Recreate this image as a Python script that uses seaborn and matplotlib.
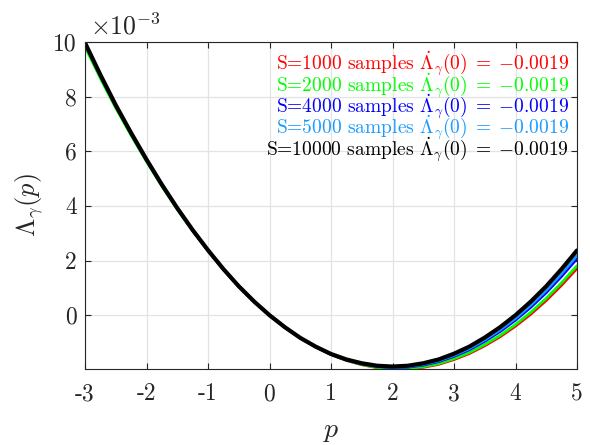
import numpy as np
import pandas as pd
import matplotlib
matplotlib.use("Agg")
import matplotlib.pyplot as plt
import seaborn as sns

# values, y in units of 1e-3
p = [-3, -2.75, -2.5, -2.25, -2, -1.75, -1.5, -1.25, -1, -0.75, -0.5, -0.25, 0,
     0.25, 0.5, 0.75, 1, 1.25, 1.5, 1.75, 2, 2.25, 2.5, 2.75, 3,
     3.25, 3.5, 3.75, 4, 4.25, 4.5, 4.75, 5]
lam_1000 = [9.91, 8.75, 7.645, 6.63, 5.665, 4.75, 3.90, 3.105, 2.37, 1.683, 1.056, 0.499, 0.0,
            -0.442, -0.837, -1.164, -1.444, -1.657, -1.813, -1.922, -1.974, -1.97, -1.91, -1.80, -1.625,
            -1.405, -1.12, -0.79, -0.40, 0.04, 0.54, 1.10, 1.71]
lam_2000 = [9.82, 8.67, 7.58, 6.58, 5.625, 4.72, 3.875, 3.09, 2.36, 1.678, 1.054, 0.498, 0.0,
            -0.442, -0.836, -1.162, -1.44, -1.651, -1.805, -1.911, -1.96, -1.95, -1.887, -1.773, -1.593,
            -1.367, -1.075, -0.74, -0.34, 0.11, 0.62, 1.19, 1.81]
lam_4000 = [9.93, 8.765, 7.66, 6.645, 5.68, 4.765, 3.908, 3.111, 2.374, 1.686, 1.058, 0.499, 0.0,
            -0.441, -0.833, -1.156, -1.431, -1.637, -1.784, -1.882, -1.922, -1.904, -1.828, -1.701, -1.507,
            -1.265, -0.955, -0.598, -0.18, 0.293, 0.826, 1.424, 2.07]
lam_5000 = [9.94, 8.775, 7.67, 6.652, 5.685, 4.768, 3.91, 3.113, 2.375, 1.687, 1.058, 0.499, 0.0,
            -0.441, -0.832, -1.154, -1.427, -1.631, -1.775, -1.871, -1.907, -1.885, -1.804, -1.672, -1.472,
            -1.224, -0.907, -0.54, -0.116, 0.367, 0.909, 1.519, 2.18]
lam_10000 = [9.97, 8.80, 7.69, 6.67, 5.70, 4.78, 3.92, 3.12, 2.38, 1.69, 1.06, 0.50, 0.0,
             -0.44, -0.83, -1.15, -1.42, -1.62, -1.76, -1.85, -1.88, -1.85, -1.76, -1.62, -1.41,
             -1.15, -0.82, -0.44, 0.0, 0.50, 1.06, 1.69, 2.37]

sample_sizes = [1000, 2000, 4000, 5000, 10000]
series = [lam_1000, lam_2000, lam_4000, lam_5000, lam_10000]
slopes = ["-0.0019"] * 5
colors = ["#ff0000", "#00ff00", "#0000ff", "#1a9bff", "#000000"]
widths = [2.0, 2.0, 2.0, 2.0, 3.0]

sns.set_theme(style="ticks")
plt.rcParams["font.family"] = "serif"
plt.rcParams["font.serif"] = ["cmr10", "DejaVu Serif"]
plt.rcParams["mathtext.fontset"] = "cm"
plt.rcParams["axes.unicode_minus"] = False
plt.rcParams["axes.formatter.use_mathtext"] = False

fig = plt.figure(figsize=(5.9, 4.45), dpi=100)
ax = fig.add_axes([85 / 590, 1 - 369 / 445, (577 - 85) / 590, (369 - 42) / 445])

for S, vals, slope, c, lw in zip(sample_sizes, series, slopes, colors, widths):
    df = pd.DataFrame({"p": p, "lam": vals})
    sns.lineplot(data=df, x="p", y="lam", color=c, linewidth=lw, ax=ax,
                 label=rf"S={S} samples $\dot{{\Lambda}}_\gamma(0)\;=\;{{{slope}}}$")

ax.set_xlim(-3, 5)
ax.set_ylim(-1.97, 10)
ax.set_xticks(range(-3, 6))
ax.set_yticks([0, 2, 4, 6, 8, 10])
ax.grid(True, color="#e3e3e3", linewidth=0.9)
ax.tick_params(direction="in", length=4, width=0.8, top=True, right=True,
               labelsize=17, colors="#262626")
ax.tick_params(axis="x", pad=10)
ax.tick_params(axis="y", pad=6)
for sp in ax.spines.values():
    sp.set_color("#262626")
    sp.set_linewidth(0.8)

ax.set_xlabel(r"$p$", fontsize=20, labelpad=9)
ax.set_ylabel(r"$\Lambda_\gamma(p)$", fontsize=19)
ax.yaxis.set_label_coords(-40 / 492, 0.5)
ax.text(0.01, 1.008, r"$\times10^{-3}$", transform=ax.transAxes, fontsize=18.5,
        ha="left", va="bottom", color="#262626")

leg = ax.legend(loc="upper right", bbox_to_anchor=(1.0, 1.0), frameon=False,
                handlelength=0, handletextpad=0, markerfirst=False,
                labelcolor="linecolor", fontsize=14, borderaxespad=0.1,
                borderpad=0.3, labelspacing=-0.38)
for h in leg.legend_handles:
    h.set_visible(False)

fig.savefig("out.png", dpi=100)
